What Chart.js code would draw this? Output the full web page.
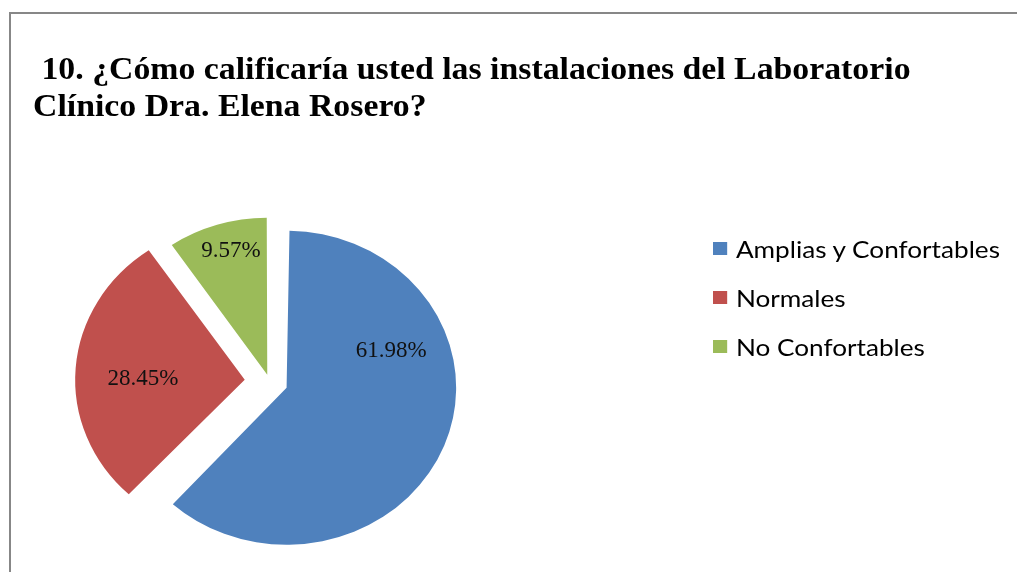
<!DOCTYPE html>
<html lang="es">
<head>
<meta charset="utf-8">
<title>Instalaciones del Laboratorio</title>
<script src="https://cdn.jsdelivr.net/npm/chart.js@4.4.1/dist/chart.umd.min.js"></script>
<style>
    html, body {
        margin: 0;
        padding: 0;
        background: #ffffff;
    }
    #page {
        position: relative;
        width: 1017px;
        height: 572px;
        overflow: hidden;
        background: #ffffff;
    }
    #frame {
        position: absolute;
        left: 9px;
        top: 12px;
        width: 1100px;
        height: 700px;
        border-top: 2px solid #878787;
        border-left: 2px solid #878787;
    }
    #chart-box {
        position: absolute;
        left: 0;
        top: 0;
        width: 1017px;
        height: 572px;
    }
    /* the original picture is stretched about 9% sideways */
    #title {
        position: absolute;
        left: 33px;
        top: 50px;
        margin: 0;
        font-family: "Liberation Serif", "Times New Roman", serif;
        font-weight: bold;
        font-size: 31px;
        line-height: 37px;
        color: #000000;
        white-space: pre;
        transform: scaleX(1.09);
        transform-origin: left top;
    }
    #legend {
        position: absolute;
        left: 713px;
        top: 224px;
        font-family: Lato, "Open Sans", sans-serif;
        font-size: 24px;
        color: #000000;
        transform: scaleX(1.09);
        transform-origin: left top;
    }
    .legend-item {
        display: flex;
        align-items: center;
        height: 49px;
    }
    .legend-box {
        width: 13px;
        height: 13px;
        margin-right: 8px;
    }
</style>
</head>
<body>
<div id="page">
    <div id="frame"></div>
    <div id="chart-box"><canvas id="pie-chart"></canvas></div>
    <div id="title"> 10. ¿Cómo calificaría usted las instalaciones del Laboratorio
Clínico Dra. Elena Rosero?</div>
    <div id="legend"></div>
</div>
<script>
// data
const categories = ['Amplias y Confortables', 'Normales', 'No Confortables'];
const percentages = [61.98, 28.45, 9.57];

const sliceColors = ['#4f81bd', '#c0504d', '#9bbb59'];
// Chart.js moves an arc by offset / 4, so these are 4x the pixel shift
const sliceOffsets = [68, 92, 28];
// where each percentage sits: [fraction of the slice sweep, fraction of the radius]
const labelSpots = [[0.31, 0.66], [0.46, 0.6], [0.56, 0.82]];
const pieRadius = 157;
const squashX = 1.08;

// Chart.js also grows an offset arc by shift * (1 - sin(sweep)); undo it so
// every slice keeps the same radius
const evenRadius = {
    id: 'evenRadius',
    afterDatasetsUpdate(chart) {
        chart.getDatasetMeta(0).data.forEach(function(arc, i) {
            const sweep = arc.endAngle - arc.startAngle;
            const fix = 1 - Math.sin(Math.min(Math.PI, sweep));
            arc.outerRadius = pieRadius - (sliceOffsets[i] / 4) * fix;
        });
    }
};

// the original pie is a little wider than it is tall
const ellipsePlugin = {
    id: 'ellipse',
    beforeDatasetsDraw(chart) {
        const ctx = chart.ctx;
        const cx = (chart.chartArea.left + chart.chartArea.right) / 2;
        ctx.save();
        ctx.translate(cx, 0);
        ctx.scale(squashX, 1);
        ctx.translate(-cx, 0);
    },
    afterDatasetsDraw(chart) {
        chart.ctx.restore();
    }
};

const sliceLabels = {
    id: 'sliceLabels',
    afterDatasetsDraw(chart) {
        const ctx = chart.ctx;
        const meta = chart.getDatasetMeta(0);
        ctx.save();
        ctx.font = '23px "Liberation Serif", "Times New Roman", serif';
        ctx.fillStyle = '#111111';
        ctx.textAlign = 'center';
        ctx.textBaseline = 'middle';
        meta.data.forEach(function(arc, i) {
            const p = arc.getProps(['x', 'y', 'startAngle', 'endAngle']);
            const shift = sliceOffsets[i] / 4;
            const mid = (p.startAngle + p.endAngle) / 2;
            const a = p.startAngle + labelSpots[i][0] * (p.endAngle - p.startAngle);
            const r = labelSpots[i][1] * pieRadius;
            const lx = Math.cos(mid) * shift + Math.cos(a) * r;
            const ly = p.y + Math.sin(mid) * shift + Math.sin(a) * r;
            ctx.fillText(percentages[i].toFixed(2) + '%', p.x + lx * squashX, ly);
        });
        ctx.restore();
    }
};

new Chart(document.getElementById('pie-chart'), {
    type: 'pie',
    data: {
        labels: categories,
        datasets: [{
            data: percentages,
            backgroundColor: sliceColors,
            borderWidth: 0,
            offset: sliceOffsets,
            radius: pieRadius
        }]
    },
    options: {
        responsive: true,
        maintainAspectRatio: false,
        animation: false,
        layout: {
            padding: { left: 0, right: 478, top: 191, bottom: 0 }
        },
        plugins: {
            legend: { display: false },
            tooltip: { enabled: false }
        }
    },
    plugins: [evenRadius, ellipsePlugin, sliceLabels]
});

// legend built from the same arrays
const legend = document.getElementById('legend');
categories.forEach(function(name, i) {
    const item = document.createElement('div');
    item.className = 'legend-item';
    const box = document.createElement('span');
    box.className = 'legend-box';
    box.style.background = sliceColors[i];
    const text = document.createElement('span');
    text.textContent = name;
    item.appendChild(box);
    item.appendChild(text);
    legend.appendChild(item);
});
</script>
</body>
</html>
